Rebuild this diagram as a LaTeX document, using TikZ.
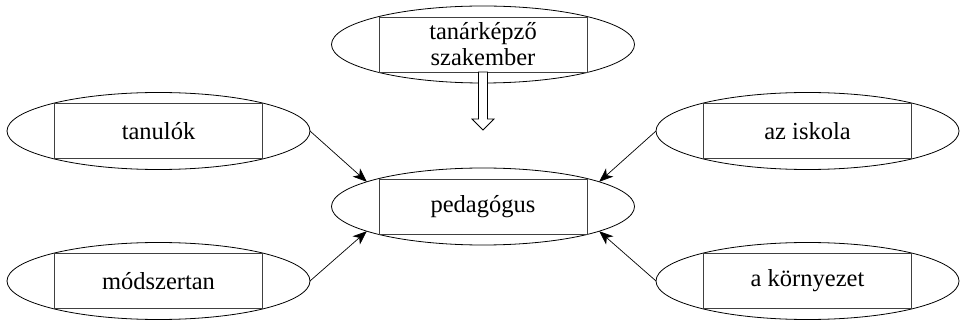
\documentclass[tikz,border=0pt]{standalone}
\usepackage{fontspec}
\setmainfont{Liberation Serif}
\usetikzlibrary{arrows.meta,calc,shapes.geometric}
\begin{document}
\begin{tikzpicture}[x=1pt,y=-1pt,
  oval/.style={draw=black,line width=0.8pt,ellipse,minimum width=303pt,minimum height=77pt,inner sep=0pt,outer sep=0pt},
  box/.style={draw=black!75,line width=0.8pt,rectangle,minimum width=208pt,minimum height=55pt,inner sep=0pt,outer sep=0pt,align=center,font=\fontsize{24.5}{26}\selectfont},
  link/.style={line width=0.7pt,-{Stealth[length=14pt,width=11pt,inset=4pt]}},
  blockarrow/.style={draw=black,line width=0.8pt,fill=white}]
\useasboundingbox (0,0) rectangle (960,320);
% ellipses
\node[oval] (topE) at (483,44.5) {};
\node[oval] (tanE) at (158.5,131) {};
\node[oval] (iskE) at (807.5,131) {};
\node[oval] (pedE) at (483,206.5) {};
\node[oval] (modE) at (158.5,281) {};
\node[oval] (korE) at (807.5,281) {};
% boxes with text
\node[box] (topR) at (topE) {tanárképző\\szakember};
\node[box] (tanR) at (tanE) {tanulók};
\node[box] (iskR) at (iskE) {az iskola};
\node[box] (pedR) at (pedE) {pedagógus};
\node[box] (modR) at (modE) {módszertan};
\node[box] (korR) at (korE) {a környezet};
% hollow block arrow
\coordinate (bt) at (topR.south);
\draw[blockarrow] (bt) ++(-4.5,0) -- ++(9,0) -- ++(0,47) -- ++(6.5,0) -- ++(-11,11) -- ++(-11,-11) -- ++(6.5,0) -- cycle;
% connectors
\draw[link] (tanE.east) -- (pedE.168);
\draw[link] (modE.east) -- (pedE.192);
\draw[link] (iskE.west) -- (pedE.12);
\draw[link] (korE.west) -- (pedE.348);
\end{tikzpicture}
\end{document}
